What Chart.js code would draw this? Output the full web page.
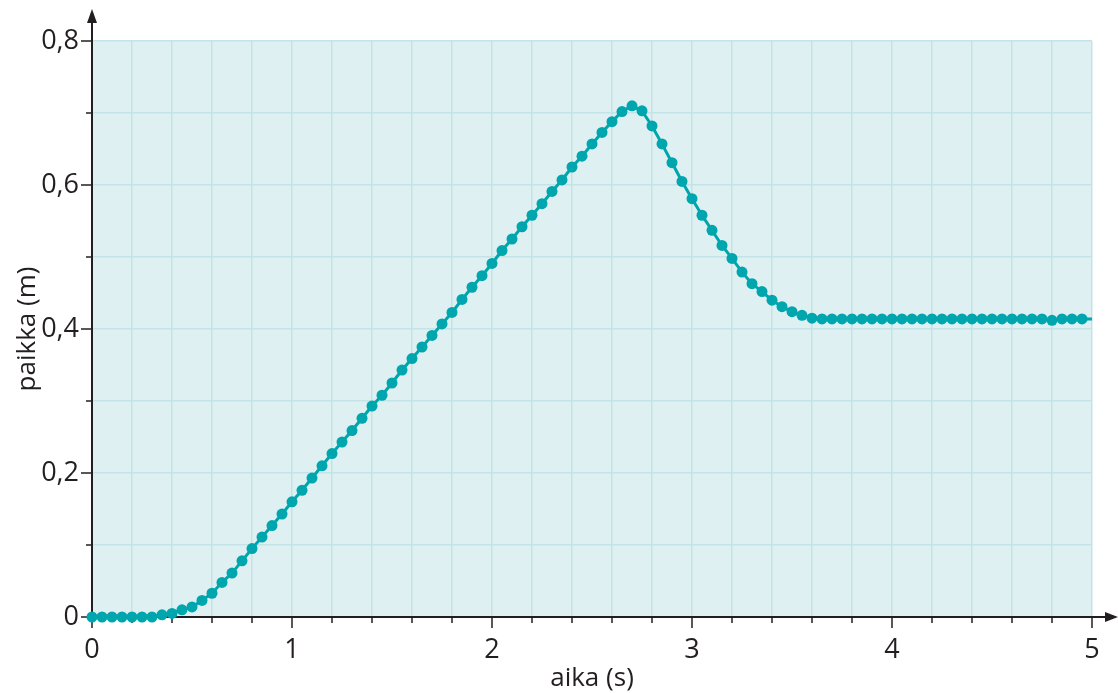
<!DOCTYPE html>
<html>
<head>
<meta charset="utf-8">
<script src="https://cdn.jsdelivr.net/npm/chart.js@4"></script>
<style>
  body { margin: 0; background: #ffffff; }
  #wrap { width: 1118px; height: 693px; }
</style>
</head>
<body>
<div id="wrap"><canvas id="myChart"></canvas></div>
<script>
// time (s)
const times = [
    0, 0.05, 0.1, 0.15, 0.2, 0.25, 0.3, 0.35, 0.4, 0.45,
    0.5, 0.55, 0.6, 0.65, 0.7, 0.75, 0.8, 0.85, 0.9, 0.95,
    1, 1.05, 1.1, 1.15, 1.2, 1.25, 1.3, 1.35, 1.4, 1.45,
    1.5, 1.55, 1.6, 1.65, 1.7, 1.75, 1.8, 1.85, 1.9, 1.95,
    2, 2.05, 2.1, 2.15, 2.2, 2.25, 2.3, 2.35, 2.4, 2.45,
    2.5, 2.55, 2.6, 2.65, 2.7, 2.75, 2.8, 2.85, 2.9, 2.95,
    3, 3.05, 3.1, 3.15, 3.2, 3.25, 3.3, 3.35, 3.4, 3.45,
    3.5, 3.55, 3.6, 3.65, 3.7, 3.75, 3.8, 3.85, 3.9, 3.95,
    4, 4.05, 4.1, 4.15, 4.2, 4.25, 4.3, 4.35, 4.4, 4.45,
    4.5, 4.55, 4.6, 4.65, 4.7, 4.75, 4.8, 4.85, 4.9, 4.95,
    5
];

// position (m)
const positions = [
    0, 0, 0, 0, 0, 0, 0, 0.003, 0.005, 0.010,
    0.014, 0.023, 0.033, 0.048, 0.061, 0.078, 0.095, 0.111, 0.127, 0.143,
    0.160, 0.176, 0.193, 0.210, 0.227, 0.243, 0.259, 0.276, 0.293, 0.308,
    0.325, 0.343, 0.359, 0.375, 0.391, 0.407, 0.423, 0.441, 0.458, 0.474,
    0.491, 0.509, 0.525, 0.542, 0.558, 0.574, 0.591, 0.607, 0.625, 0.640,
    0.657, 0.673, 0.688, 0.702, 0.710, 0.703, 0.682, 0.657, 0.631, 0.605,
    0.581, 0.558, 0.537, 0.516, 0.498, 0.479, 0.463, 0.452, 0.440, 0.431,
    0.424, 0.419, 0.415, 0.414, 0.414, 0.414, 0.414, 0.414, 0.414, 0.414,
    0.414, 0.414, 0.414, 0.414, 0.414, 0.414, 0.414, 0.414, 0.414, 0.414,
    0.414, 0.414, 0.414, 0.414, 0.414, 0.414, 0.412, 0.414, 0.414, 0.414,
    0.414
];

const xLabels = [0, 1, 2, 3, 4, 5];
const yLabels = [0, 0.2, 0.4, 0.6, 0.8];

const teal = '#00a6ae';
const axisColor = '#231f20';
const gridColor = '#c4e3e6';
const fontFamily = "'Open Sans', 'DejaVu Sans', sans-serif";

function isLabelled(value, list){
    return list.some(v => Math.abs(v - value) < 1e-6);
}

const plotBackground = {
    id: 'plotBackground',
    beforeDraw(chart){
        const {ctx, chartArea: a} = chart;
        ctx.save();
        ctx.fillStyle = '#dff0f2';
        ctx.fillRect(a.left, a.top, a.right - a.left, a.bottom - a.top);
        ctx.restore();
    }
};

const axesArrows = {
    id: 'axesArrows',
    beforeDatasetsDraw(chart){
        const {ctx, chartArea: a, scales: {x, y}} = chart;
        ctx.save();
        ctx.strokeStyle = axisColor;
        ctx.fillStyle = axisColor;

        // tick marks
        ctx.lineWidth = 1.5;
        x.ticks.forEach(t => {
            const px = x.getPixelForValue(t.value);
            const len = isLabelled(t.value, xLabels) ? 11 : 6;
            ctx.beginPath();
            ctx.moveTo(px, a.bottom);
            ctx.lineTo(px, a.bottom + len);
            ctx.stroke();
        });
        y.ticks.forEach(t => {
            const py = y.getPixelForValue(t.value);
            const len = isLabelled(t.value, yLabels) ? 11 : 6;
            ctx.beginPath();
            ctx.moveTo(a.left, py);
            ctx.lineTo(a.left - len, py);
            ctx.stroke();
        });

        // axis lines
        ctx.lineWidth = 2;
        ctx.beginPath();
        ctx.moveTo(a.left, a.bottom);
        ctx.lineTo(1110, a.bottom);
        ctx.moveTo(a.left, a.bottom);
        ctx.lineTo(a.left, 18);
        ctx.stroke();

        // arrow heads
        ctx.beginPath();
        ctx.moveTo(1118, a.bottom);
        ctx.lineTo(1105, a.bottom - 5);
        ctx.lineTo(1105, a.bottom + 5);
        ctx.closePath();
        ctx.fill();
        ctx.beginPath();
        ctx.moveTo(a.left, 9);
        ctx.lineTo(a.left - 5, 23);
        ctx.lineTo(a.left + 5, 23);
        ctx.closePath();
        ctx.fill();
        ctx.restore();
    }
};

function createChart(){
    const ctx = document.querySelector('#myChart').getContext('2d');
    return new Chart(ctx, {
        type: 'line',
        data: {
            datasets: [{
                data: times.map((t, i) => ({x: t, y: positions[i]})),
                borderColor: teal,
                backgroundColor: teal,
                borderWidth: 3,
                pointRadius: times.map(t => t >= 5 ? 0 : 5.5),
                pointBorderWidth: 0,
                tension: 0,
                clip: false
            }]
        },
        options: {
            responsive: true,
            maintainAspectRatio: false,
            animation: false,
            layout: {
                padding: {top: 41, right: 26, left: 0, bottom: 0}
            },
            plugins: {
                legend: {display: false},
                tooltip: {enabled: false}
            },
            scales: {
                x: {
                    type: 'linear',
                    min: 0,
                    max: 5,
                    afterFit: scale => { scale.height = 76; },
                    border: {display: false},
                    grid: {
                        color: gridColor,
                        lineWidth: 1.5,
                        drawTicks: false
                    },
                    ticks: {
                        stepSize: 0.2,
                        autoSkip: false,
                        maxRotation: 0,
                        padding: 17,
                        color: axisColor,
                        font: {family: fontFamily, size: 27},
                        callback: value => isLabelled(value, xLabels) ? String(Math.round(value)) : ''
                    },
                    title: {
                        display: true,
                        text: 'aika (s)',
                        color: axisColor,
                        padding: {top: 0, bottom: -1},
                        font: {family: fontFamily, size: 26}
                    }
                },
                y: {
                    min: 0,
                    max: 0.8,
                    afterFit: scale => { scale.width = 92; },
                    border: {display: false},
                    grid: {
                        color: gridColor,
                        lineWidth: 1.5,
                        drawTicks: false
                    },
                    ticks: {
                        stepSize: 0.1,
                        autoSkip: false,
                        padding: 13,
                        color: axisColor,
                        font: {family: fontFamily, size: 27},
                        callback: value => isLabelled(value, yLabels)
                            ? (Math.round(value * 10) / 10).toString().replace('.', ',')
                            : ''
                    },
                    title: {
                        display: true,
                        text: 'paikka (m)',
                        color: axisColor,
                        padding: {top: 12, bottom: 0},
                        font: {family: fontFamily, size: 26}
                    }
                }
            }
        },
        plugins: [plotBackground, axesArrows]
    });
}

let myChart = createChart();
</script>
</body>
</html>
